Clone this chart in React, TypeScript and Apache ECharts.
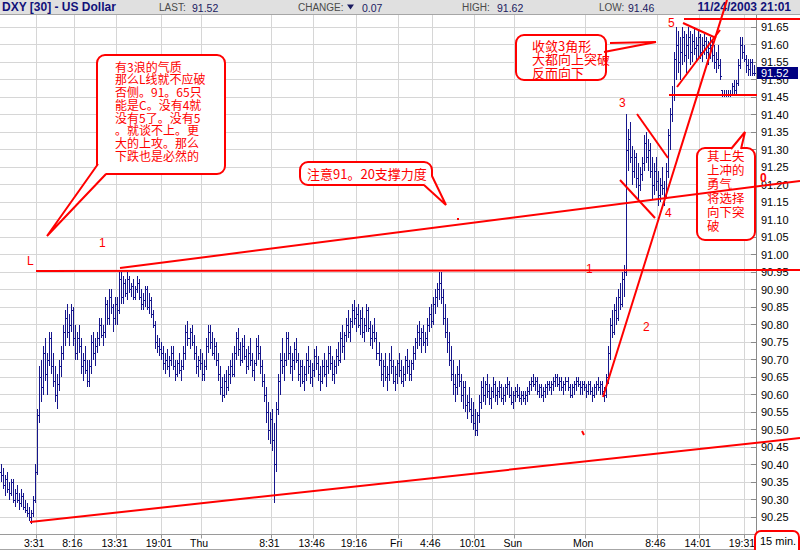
import React, { useEffect, useRef } from 'react';
import * as echarts from 'echarts';

// ---- 15-minute OHLC bars (DXY) ----
const opens = [
  90.38,90.37,90.34,90.36,90.33,90.32,90.35,90.30,90.32,90.30,
  90.29,90.31,90.28,90.27,90.26,90.25,90.26,90.30,90.38,90.54,
  90.65,90.62,90.72,90.66,90.70,90.76,90.68,90.64,90.60,90.63,
  90.68,90.72,90.78,90.82,90.78,90.80,90.84,90.76,90.72,90.76,
  90.74,90.68,90.70,90.67,90.64,90.68,90.75,90.72,90.74,90.76,
  90.80,90.77,90.78,90.86,90.82,90.88,90.85,90.82,90.86,90.84,
  90.93,90.88,90.92,90.89,90.93,90.90,90.91,90.88,90.90,90.92,
  90.88,90.86,90.87,90.90,90.85,90.87,90.83,90.80,90.75,90.74,
  90.73,90.72,90.69,90.70,90.68,90.70,90.72,90.68,90.66,90.69,
  90.67,90.68,90.72,90.78,90.76,90.78,90.75,90.72,90.68,90.70,
  90.69,90.66,90.68,90.74,90.78,90.75,90.72,90.74,90.70,90.66,
  90.62,90.60,90.64,90.62,90.66,90.68,90.66,90.72,90.76,90.73,
  90.70,90.74,90.71,90.68,90.72,90.70,90.67,90.69,90.74,90.72,
  90.68,90.64,90.60,90.55,90.50,90.53,90.47,90.40,90.56,90.64,
  90.70,90.68,90.70,90.76,90.72,90.68,90.70,90.73,90.70,90.66,
  90.68,90.64,90.66,90.70,90.68,90.65,90.67,90.71,90.69,90.66,
  90.64,90.68,90.66,90.68,90.72,90.69,90.66,90.68,90.71,90.70,
  90.76,90.74,90.77,90.80,90.78,90.81,90.84,90.82,90.83,90.80,
  90.82,90.78,90.80,90.84,90.79,90.76,90.78,90.76,90.72,90.70,
  90.66,90.68,90.65,90.66,90.70,90.68,90.64,90.66,90.69,90.67,
  90.64,90.66,90.70,90.68,90.66,90.69,90.72,90.75,90.78,90.76,
  90.78,90.75,90.76,90.80,90.83,90.81,90.86,90.88,90.90,90.92,
  90.88,90.82,90.78,90.75,90.70,90.66,90.63,90.62,90.66,90.64,
  90.60,90.62,90.57,90.58,90.56,90.54,90.52,90.50,90.54,90.58,
  90.62,90.60,90.63,90.61,90.59,90.61,90.63,90.60,90.61,90.62,
  90.59,90.60,90.62,90.63,90.60,90.58,90.60,90.61,90.60,90.59,
  90.60,90.59,90.60,90.61,90.63,90.64,90.63,90.64,90.61,90.62,
  90.60,90.61,90.62,90.63,90.62,90.63,90.64,90.65,90.63,90.64,
  90.62,90.63,90.64,90.62,90.60,90.62,90.63,90.64,90.63,90.62,
  90.63,90.62,90.61,90.63,90.61,90.60,90.62,90.63,90.62,90.63,
  90.61,90.60,90.65,90.72,90.80,90.78,90.84,90.82,90.88,90.86,
  90.93,90.95,91.30,91.33,91.28,91.24,91.28,91.22,91.20,91.23,
  91.26,91.32,91.28,91.30,91.24,91.20,91.24,91.21,91.17,91.20,
  91.19,91.17,91.24,91.34,91.40,91.46,91.56,91.60,91.55,91.58,
  91.62,91.57,91.60,91.62,91.58,91.61,91.59,91.60,91.62,91.58,
  91.60,91.61,91.58,91.59,91.60,91.57,91.55,91.56,91.54,91.47,
  91.46,91.46,91.46,91.46,91.46,91.48,91.47,91.49,91.54,91.60,
  91.58,91.56,91.54,91.53,91.55,91.52,
];
const highs = [
  90.40,90.39,90.37,90.38,90.35,90.36,90.36,90.33,90.34,90.32,
  90.33,90.32,90.30,90.29,90.28,90.27,90.31,90.40,90.56,90.68,
  90.70,90.74,90.76,90.72,90.78,90.78,90.72,90.68,90.66,90.70,
  90.74,90.80,90.84,90.86,90.83,90.86,90.85,90.80,90.78,90.80,
  90.76,90.72,90.74,90.70,90.70,90.77,90.78,90.76,90.78,90.82,
  90.82,90.80,90.88,90.87,90.90,90.90,90.86,90.88,90.88,90.95,
  90.95,90.94,90.93,90.95,90.94,90.92,90.93,90.91,90.94,90.93,
  90.90,90.89,90.91,90.91,90.89,90.88,90.84,90.81,90.77,90.76,
  90.75,90.74,90.72,90.73,90.71,90.74,90.74,90.70,90.70,90.72,
  90.70,90.74,90.80,90.81,90.79,90.80,90.77,90.74,90.71,90.73,
  90.72,90.70,90.76,90.80,90.80,90.78,90.76,90.75,90.72,90.68,
  90.65,90.66,90.67,90.68,90.70,90.72,90.74,90.78,90.79,90.75,
  90.76,90.77,90.73,90.74,90.76,90.72,90.70,90.76,90.77,90.74,
  90.70,90.66,90.62,90.58,90.55,90.56,90.52,90.58,90.66,90.72,
  90.76,90.72,90.78,90.78,90.74,90.72,90.75,90.76,90.72,90.70,
  90.70,90.68,90.72,90.74,90.70,90.69,90.73,90.74,90.71,90.68,
  90.70,90.72,90.70,90.74,90.74,90.71,90.70,90.73,90.75,90.78,
  90.80,90.78,90.82,90.84,90.82,90.86,90.87,90.85,90.86,90.84,
  90.85,90.82,90.86,90.85,90.81,90.80,90.82,90.78,90.75,90.72,
  90.70,90.72,90.68,90.72,90.74,90.70,90.68,90.70,90.72,90.70,
  90.68,90.71,90.73,90.70,90.70,90.74,90.76,90.80,90.81,90.79,
  90.80,90.78,90.82,90.85,90.86,90.88,90.90,90.92,90.95,90.95,
  90.90,90.86,90.82,90.78,90.74,90.70,90.66,90.68,90.70,90.66,
  90.64,90.64,90.60,90.62,90.59,90.58,90.56,90.55,90.60,90.64,
  90.65,90.64,90.66,90.63,90.62,90.65,90.64,90.62,90.64,90.63,
  90.62,90.63,90.65,90.64,90.62,90.61,90.62,90.63,90.62,90.61,
  90.61,90.61,90.62,90.64,90.65,90.66,90.65,90.65,90.63,90.63,
  90.62,90.63,90.64,90.64,90.64,90.65,90.66,90.66,90.65,90.65,
  90.64,90.65,90.65,90.63,90.63,90.64,90.65,90.65,90.64,90.64,
  90.64,90.63,90.64,90.64,90.62,90.63,90.64,90.65,90.64,90.64,
  90.62,90.66,90.74,90.82,90.84,90.86,90.88,90.90,90.92,90.95,
  90.97,91.40,91.36,91.38,91.31,91.30,91.29,91.26,91.25,91.28,
  91.34,91.35,91.33,91.32,91.28,91.26,91.28,91.24,91.22,91.25,
  91.21,91.26,91.36,91.42,91.48,91.58,91.65,91.64,91.62,91.65,
  91.64,91.63,91.65,91.64,91.63,91.65,91.62,91.64,91.63,91.62,
  91.63,91.62,91.61,91.62,91.61,91.60,91.58,91.60,91.56,91.47,
  91.47,91.47,91.47,91.47,91.49,91.50,91.50,91.56,91.62,91.62,
  91.60,91.57,91.56,91.56,91.56,91.54,
];
const lows = [
  90.35,90.33,90.31,90.32,90.30,90.31,90.29,90.28,90.29,90.27,
  90.28,90.27,90.26,90.25,90.24,90.23,90.25,90.29,90.37,90.52,
  90.58,90.60,90.64,90.60,90.68,90.66,90.62,90.58,90.56,90.61,
  90.65,90.70,90.74,90.76,90.74,90.78,90.74,90.70,90.70,90.72,
  90.66,90.64,90.66,90.62,90.62,90.66,90.70,90.68,90.72,90.74,
  90.76,90.74,90.76,90.80,90.80,90.83,90.78,90.80,90.80,90.83,
  90.86,90.86,90.88,90.87,90.89,90.88,90.87,90.87,90.89,90.87,
  90.84,90.84,90.85,90.84,90.83,90.82,90.79,90.73,90.72,90.71,
  90.70,90.67,90.66,90.67,90.65,90.68,90.67,90.64,90.65,90.66,
  90.64,90.67,90.70,90.74,90.73,90.74,90.70,90.66,90.65,90.67,
  90.64,90.64,90.67,90.72,90.73,90.71,90.70,90.68,90.64,90.60,
  90.58,90.59,90.60,90.61,90.63,90.65,90.65,90.70,90.71,90.68,
  90.69,90.70,90.66,90.67,90.68,90.65,90.64,90.68,90.70,90.66,
  90.62,90.58,90.52,90.47,90.46,90.44,90.29,90.38,90.54,90.60,
  90.66,90.64,90.68,90.70,90.66,90.64,90.67,90.69,90.64,90.62,
  90.63,90.61,90.64,90.66,90.63,90.62,90.65,90.67,90.64,90.61,
  90.63,90.65,90.62,90.66,90.67,90.64,90.63,90.66,90.68,90.69,
  90.72,90.70,90.75,90.76,90.75,90.79,90.80,90.78,90.79,90.77,
  90.76,90.75,90.78,90.78,90.74,90.73,90.75,90.70,90.68,90.64,
  90.62,90.64,90.61,90.64,90.66,90.63,90.61,90.63,90.65,90.63,
  90.62,90.64,90.66,90.64,90.64,90.67,90.70,90.73,90.74,90.72,
  90.74,90.72,90.74,90.78,90.79,90.80,90.83,90.85,90.87,90.86,
  90.80,90.76,90.72,90.68,90.64,90.60,90.58,90.60,90.62,90.58,
  90.56,90.55,90.53,90.55,90.52,90.50,90.48,90.48,90.52,90.56,
  90.58,90.57,90.59,90.57,90.56,90.59,90.58,90.57,90.59,90.58,
  90.57,90.58,90.60,90.59,90.57,90.56,90.58,90.59,90.58,90.57,
  90.58,90.57,90.58,90.60,90.61,90.62,90.61,90.60,90.59,90.59,
  90.58,90.59,90.60,90.61,90.60,90.61,90.62,90.62,90.61,90.61,
  90.60,90.61,90.61,90.59,90.59,90.60,90.61,90.62,90.60,90.60,
  90.61,90.59,90.60,90.60,90.58,90.59,90.60,90.61,90.60,90.60,
  90.58,90.59,90.63,90.70,90.76,90.77,90.80,90.81,90.84,90.85,
  90.88,90.94,91.24,91.26,91.20,91.22,91.19,91.16,91.18,91.21,
  91.24,91.26,91.24,91.22,91.16,91.17,91.18,91.14,91.15,91.17,
  91.14,91.16,91.22,91.30,91.38,91.44,91.50,91.52,91.50,91.54,
  91.55,91.52,91.56,91.54,91.55,91.57,91.55,91.56,91.56,91.55,
  91.57,91.56,91.54,91.56,91.55,91.53,91.52,91.53,91.50,91.45,
  91.45,91.45,91.45,91.45,91.46,91.46,91.46,91.48,91.53,91.56,
  91.55,91.52,91.51,91.51,91.51,91.51,
];
const closes = [
  90.37,90.34,90.36,90.33,90.32,90.35,90.30,90.32,90.30,90.29,
  90.31,90.28,90.27,90.26,90.25,90.26,90.30,90.38,90.54,90.65,
  90.62,90.72,90.66,90.70,90.76,90.68,90.64,90.60,90.63,90.68,
  90.72,90.78,90.82,90.78,90.80,90.84,90.76,90.72,90.76,90.74,
  90.68,90.70,90.67,90.64,90.68,90.75,90.72,90.74,90.76,90.80,
  90.77,90.78,90.86,90.82,90.88,90.85,90.82,90.86,90.84,90.93,
  90.88,90.92,90.89,90.93,90.90,90.91,90.88,90.90,90.92,90.88,
  90.86,90.87,90.90,90.85,90.87,90.83,90.80,90.75,90.74,90.73,
  90.72,90.69,90.70,90.68,90.70,90.72,90.68,90.66,90.69,90.67,
  90.68,90.72,90.78,90.76,90.78,90.75,90.72,90.68,90.70,90.69,
  90.66,90.68,90.74,90.78,90.75,90.72,90.74,90.70,90.66,90.62,
  90.60,90.64,90.62,90.66,90.68,90.66,90.72,90.76,90.73,90.70,
  90.74,90.71,90.68,90.72,90.70,90.67,90.69,90.74,90.72,90.68,
  90.64,90.60,90.55,90.50,90.53,90.47,90.40,90.56,90.64,90.70,
  90.68,90.70,90.76,90.72,90.68,90.70,90.73,90.70,90.66,90.68,
  90.64,90.66,90.70,90.68,90.65,90.67,90.71,90.69,90.66,90.64,
  90.68,90.66,90.68,90.72,90.69,90.66,90.68,90.71,90.70,90.76,
  90.74,90.77,90.80,90.78,90.81,90.84,90.82,90.83,90.80,90.82,
  90.78,90.80,90.84,90.79,90.76,90.78,90.76,90.72,90.70,90.66,
  90.68,90.65,90.66,90.70,90.68,90.64,90.66,90.69,90.67,90.64,
  90.66,90.70,90.68,90.66,90.69,90.72,90.75,90.78,90.76,90.78,
  90.75,90.76,90.80,90.83,90.81,90.86,90.88,90.90,90.92,90.88,
  90.82,90.78,90.75,90.70,90.66,90.63,90.62,90.66,90.64,90.60,
  90.62,90.57,90.58,90.56,90.54,90.52,90.50,90.54,90.58,90.62,
  90.60,90.63,90.61,90.59,90.61,90.63,90.60,90.61,90.62,90.59,
  90.60,90.62,90.63,90.60,90.58,90.60,90.61,90.60,90.59,90.60,
  90.59,90.60,90.61,90.63,90.64,90.63,90.64,90.61,90.62,90.60,
  90.61,90.62,90.63,90.62,90.63,90.64,90.65,90.63,90.64,90.62,
  90.63,90.64,90.62,90.60,90.62,90.63,90.64,90.63,90.62,90.63,
  90.62,90.61,90.63,90.61,90.60,90.62,90.63,90.62,90.63,90.61,
  90.60,90.65,90.72,90.80,90.78,90.84,90.82,90.88,90.86,90.93,
  90.95,91.30,91.33,91.28,91.24,91.28,91.22,91.20,91.23,91.26,
  91.32,91.28,91.30,91.24,91.20,91.24,91.21,91.17,91.20,91.19,
  91.17,91.24,91.34,91.40,91.46,91.56,91.60,91.55,91.58,91.62,
  91.57,91.60,91.62,91.58,91.61,91.59,91.60,91.62,91.58,91.60,
  91.61,91.58,91.59,91.60,91.57,91.55,91.56,91.54,91.51,91.46,
  91.46,91.46,91.46,91.46,91.48,91.47,91.49,91.54,91.60,91.58,
  91.56,91.54,91.53,91.55,91.52,91.52,
];

// ---- axes ----
const tickIndex = [18, 37, 58, 80, 100, 135, 156, 177, 198, 215, 236, 256, 291, 327, 348, 370];
const tickLabels = ['3:31', '8:16', '13:31', '19:01', 'Thu', '8:31', '13:46', '19:16', 'Fri', '4:46', '10:01', 'Sun', 'Mon', '8:46', '14:01', '19:31'];
const yMin = 90.2;
const yMax = 91.7;
const yStep = 0.05;

// ---- header figures ----
const symbolTitle = 'DXY [30] - US Dollar';
const lastPrice = 91.52;
const changeValue = '0.07';
const highValue = '91.62';
const lowValue = '91.46';
const stamp = '11/24/2003 21:01';

// ---- annotation texts ----
const noteBig = ['有3浪的气质', '那么L线就不应破', '否侧。91。65只', '能是C。没有4就', '没有5了。没有5', '。就谈不上。更', '大的上攻。那么', '下跌也是必然的'];
const noteTriangle = ['收敛3角形', '大都向上突破', '反而向下'];
const noteSupport = '注意91。20支撑力度';
const noteRight = ['其上失', '上冲的', '勇气', '将选择', '向下突', '破'];

const NAVY = '#16168c';
const RED = '#ff0000';
const GRID = '#d6d6d6';
const FONT = '"Liberation Sans", Arial, sans-serif';
const CJK = '"Noto Sans CJK SC", sans-serif';

const seg = (x1: number, y1: number, x2: number, y2: number, w = 2, z = 50) => ({
  type: 'line', z, silent: true, shape: { x1, y1, x2, y2 }, style: { stroke: RED, lineWidth: w },
});
const txt = (x: number, y: number, text: string, o: any = {}) => ({
  type: 'text', z: o.z ?? 60, silent: true, x, y,
  style: {
    text, fill: o.fill ?? RED, fontSize: o.size ?? 12, fontFamily: o.family ?? FONT,
    fontWeight: o.weight ?? 'normal', align: o.align ?? 'left', verticalAlign: 'middle',
  },
});
// multi-line block: one text element, lines stacked with a fixed line height
const block = (x: number, yFirst: number, lines: string[], size: number, lh: number) => ({
  type: 'text', z: 61, silent: true, x, y: yFirst - lh / 2,
  style: {
    text: lines.join('\n'), fill: RED, fontSize: size, fontFamily: CJK, lineHeight: lh,
    align: 'left', verticalAlign: 'top',
  },
});
const box = (x: number, y: number, w: number, h: number, z = 40) => ({
  type: 'rect', z, silent: true, shape: { x, y, width: w, height: h, r: 8 },
  style: { fill: '#ffffff', stroke: RED, lineWidth: 2 },
});
const tail = (a: number[], tip: number[], b: number[], z = 42) => [
  { type: 'polygon', z, silent: true, shape: { points: [a, tip, b] }, style: { fill: '#ffffff', stroke: 'none' } },
  { type: 'polyline', z: z + 1, silent: true, shape: { points: [a, tip, b] }, style: { fill: 'none', stroke: RED, lineWidth: 2 } },
];

function buildGraphic(yTag: number) {
  const g: any[] = [];
  // header band
  g.push({ type: 'rect', z: 100, silent: true, shape: { x: 0, y: 0, width: 800, height: 14.5 }, style: { fill: '#e0e0e0' } });
  g.push({ type: 'line', z: 101, silent: true, shape: { x1: 0, y1: 14.5, x2: 800, y2: 14.5 }, style: { stroke: '#a6a6a6', lineWidth: 1 } });
  g.push(txt(2, 7, symbolTitle, { fill: '#12127a', weight: 'bold', size: 12, z: 102 }));
  g.push(txt(159, 7.5, 'LAST:', { fill: '#4a4a4a', size: 10, z: 102 }));
  g.push(txt(192, 7.5, lastPrice.toFixed(2), { fill: '#1a1a60', size: 10.5, z: 102 }));
  g.push(txt(298, 7.5, 'CHANGE:', { fill: '#4a4a4a', size: 10, z: 102 }));
  g.push({ type: 'polygon', z: 102, silent: true, shape: { points: [[347, 4.5], [354, 4.5], [350.5, 9.5]] }, style: { fill: '#1a1a60' } });
  g.push(txt(362, 7.5, changeValue, { fill: '#1a1a60', size: 10.5, z: 102 }));
  g.push(txt(462, 7.5, 'HIGH:', { fill: '#4a4a4a', size: 10, z: 102 }));
  g.push(txt(497, 7.5, highValue, { fill: '#1a1a60', size: 10.5, z: 102 }));
  g.push(txt(599, 7.5, 'LOW:', { fill: '#4a4a4a', size: 10, z: 102 }));
  g.push(txt(628, 7.5, lowValue, { fill: '#1a1a60', size: 10.5, z: 102 }));
  g.push(txt(791, 7, stamp, { fill: '#12127a', weight: 'bold', size: 12, align: 'right', z: 102 }));
  // bottom band border
  g.push({ type: 'line', z: 30, silent: true, shape: { x1: 0, y1: 549.5, x2: 800, y2: 549.5 }, style: { stroke: '#a6a6a6', lineWidth: 1 } });

  // last price tag on the axis
  g.push({ type: 'rect', z: 70, silent: true, shape: { x: 757, y: Math.round(yTag) - 6, width: 41, height: 12 }, style: { fill: '#000080' } });
  g.push(txt(761, Math.round(yTag), lastPrice.toFixed(2), { fill: '#ffffff', size: 11, z: 71 }));

  // trend / reference lines
  g.push(seg(36, 271, 800, 270));
  g.push(seg(120, 268, 800, 181));
  g.push(seg(30, 522, 800, 438));
  g.push(seg(603, 397, 727, 0, 2, 110));
  g.push(seg(684, 19, 800, 19));
  g.push(seg(669, 95, 757, 95));
  g.push(seg(677, 87, 720, 30));
  g.push(seg(683, 23, 716, 38));
  g.push(seg(637, 114, 668, 158));
  g.push(seg(620, 180, 655, 218));
  g.push(seg(610, 43, 656, 42));
  g.push(seg(604, 52, 656, 42));
  g.push(seg(582, 431, 584, 435));
  g.push({ type: 'rect', z: 50, silent: true, shape: { x: 457, y: 218, width: 2, height: 2 }, style: { fill: RED } });

  // wave labels
  g.push(txt(27, 261, 'L'));
  g.push(txt(99, 243, '1'));
  g.push(txt(586, 269, '1'));
  g.push(txt(643, 327, '2'));
  g.push(txt(619, 103, '3'));
  g.push(txt(665, 213, '4'));
  g.push(txt(668, 23, '5'));
  g.push(txt(760, 178, '0', { weight: 'bold', z: 72 }));

  // big callout (top-left)
  g.push(box(97, 55, 128, 119));
  g.push(...tail([98, 164], [47, 236], [106, 174]));
  g.push(block(115, 66, noteBig, 12, 12.8));

  // support callout
  g.push(box(300, 162, 132, 23));
  g.push(...tail([424, 185], [446, 205], [432, 176]));
  g.push(txt(307, 173.5, noteSupport, { family: CJK, size: 13, z: 61 }));

  // triangle callout
  g.push(box(516, 35, 90, 45));
  g.push(block(532, 45, noteTriangle, 13, 13.5));

  // right callout
  g.push(box(697, 148, 58, 92));
  g.push(...tail([731, 149], [745, 132], [741, 149]));
  g.push(block(707, 155, noteRight, 12.5, 14));

  // "15 min." box
  g.push({ type: 'rect', z: 40, silent: true, shape: { x: 755, y: 531, width: 44, height: 26, r: 6 }, style: { fill: '#ffffff', stroke: RED, lineWidth: 2 } });
  g.push(txt(760, 541, '15 min.', { fill: '#000000', size: 11, z: 61 }));
  return g;
}

export default function App() {
  const ref = useRef<HTMLDivElement>(null);
  useEffect(() => {
    const chart = echarts.init(ref.current!, null, { renderer: 'svg' });
    const cats = opens.map((_, i) => String(i));
    const data = opens.map((o, i) => [i, o, highs[i], lows[i], closes[i]]);
    const labelAt: Record<number, string> = {};
    tickIndex.forEach((t, k) => { labelAt[t] = tickLabels[k]; });
    const isTick = (idx: number) => labelAt[idx] !== undefined;

    chart.setOption({
      animation: false,
      backgroundColor: '#ffffff',
      textStyle: { fontFamily: FONT },
      grid: { left: 0, right: 44, top: 9.5, bottom: 15.5, containLabel: false },
      xAxis: {
        type: 'category',
        data: cats,
        boundaryGap: true,
        axisLine: { show: true, lineStyle: { color: '#9a9a9a' } },
        axisTick: { show: true, interval: (i: number) => isTick(i), length: 4, lineStyle: { color: '#9a9a9a' } },
        axisLabel: {
          interval: (i: number) => isTick(i),
          formatter: (v: string) => labelAt[Number(v)] ?? '',
          color: '#000', fontSize: 10.5, margin: 3, fontFamily: FONT,
          padding: [0, 6, 0, 0],
        },
        splitLine: { show: true, interval: (i: number) => isTick(i), lineStyle: { color: GRID } },
      },
      yAxis: {
        type: 'value',
        position: 'right',
        min: yMin,
        max: yMax,
        interval: yStep,
        axisLine: { show: true, lineStyle: { color: '#8a8a8a' } },
        axisTick: { show: true, inside: true, length: 5, lineStyle: { color: '#8a8a8a' } },
        axisLabel: {
          formatter: (v: number) => v.toFixed(2),
          showMinLabel: false, showMaxLabel: false,
          color: '#000', fontSize: 11, margin: 5, fontFamily: FONT,
        },
        splitLine: { show: true, lineStyle: { color: GRID } },
      },
      series: [
        {
          type: 'custom',
          data,
          encode: { x: 0, y: [1, 2, 3, 4] },
          clip: true,
          renderItem: (_p: any, api: any) => {
            const i = api.value(0);
            const pO = api.coord([i, api.value(1)]);
            const pH = api.coord([i, api.value(2)]);
            const pL = api.coord([i, api.value(3)]);
            const pC = api.coord([i, api.value(4)]);
            const xi = Math.floor(pH[0]);
            const x = xi + 0.5;
            const yH = Math.round(pH[1]);
            const yL = Math.max(Math.round(pL[1]), yH + 1);
            const yO = Math.round(pO[1]) + 0.5;
            const yC = Math.round(pC[1]) + 0.5;
            const st = { stroke: NAVY, lineWidth: 1 };
            return {
              type: 'group',
              children: [
                { type: 'line', shape: { x1: x, y1: yH, x2: x, y2: yL }, style: st },
                { type: 'line', shape: { x1: xi - 1, y1: yO, x2: xi + 1, y2: yO }, style: st },
                { type: 'line', shape: { x1: xi, y1: yC, x2: xi + 2, y2: yC }, style: st },
              ],
            };
          },
        },
      ],
    });
    const yTag = chart.convertToPixel({ yAxisIndex: 0 }, lastPrice) as number;
    chart.setOption({ graphic: buildGraphic(yTag) });
    return () => chart.dispose();
  }, []);
  return <div ref={ref} style={{ position: 'fixed', left: 0, top: 0, width: 800, height: 550 }} />;
}
